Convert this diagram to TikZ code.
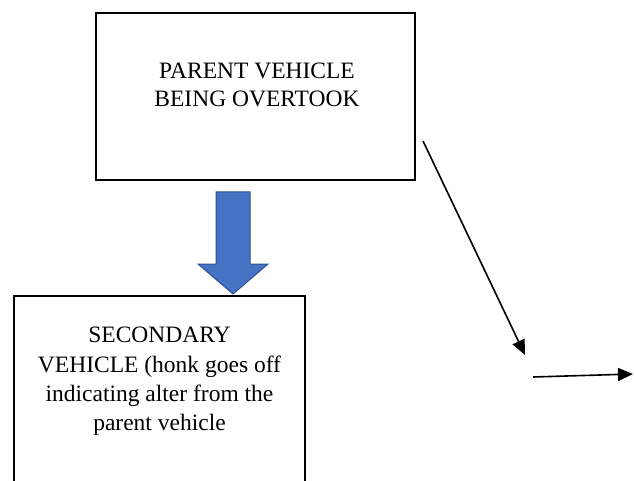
\documentclass[tikz,border=0pt]{standalone}
\usepackage{fontspec}
\setmainfont{Liberation Serif}
\usetikzlibrary{arrows.meta}
\begin{document}
\begin{tikzpicture}[x=1pt,y=-1pt,
	box/.style={draw, line width=1.8pt, inner sep=0pt},
	boxtext/.style={align=center, anchor=north, inner sep=0pt},
	pointer/.style={-{Triangle[length=15pt,width=13pt]}, line width=1.6pt},
	blockarrow/.style={fill={rgb,255:red,68;green,114;blue,196}, draw={rgb,255:red,47;green,82;blue,143}, line width=1pt}]
	 \useasboundingbox (0,0) rectangle (634,481);

	 \node (parent) [box, minimum width=319pt, minimum height=167pt] at (255.5,96.5) {};
	 \node (parenttext) [boxtext, font=\rmfamily\fontsize{23.5}{28}\selectfont] at (257,63)
	   {PARENT VEHICLE\\BEING OVERTOOK};

	 \node (second) [box, minimum width=291pt, minimum height=200pt, anchor=north] at (159.5,295) {};
	 \node (secondtext) [boxtext, font=\rmfamily\fontsize{23.5}{29.3}\selectfont] at (159.5,327)
	   {SECONDARY\\VEHICLE (honk goes off\\indicating alter from the\\parent vehicle};

	 \coordinate (tip) at (233,294);
	 \draw[blockarrow] (tip) -- ++(-35,-30) -- ++(18,0) -- ++(0,-72) -- ++(34,0)
	   -- ++(0,72) -- ++(18,0) -- cycle;

	 \coordinate (start) at (423,141);
	 \coordinate (bend)  at (525,355);
	 \coordinate (next)  at (533,377);
	 \coordinate (out)   at (633,374);

	 \draw[pointer] (start) -- (bend);
	 \draw[pointer] (next)  -- (out);
	\end{tikzpicture}
\end{document}
